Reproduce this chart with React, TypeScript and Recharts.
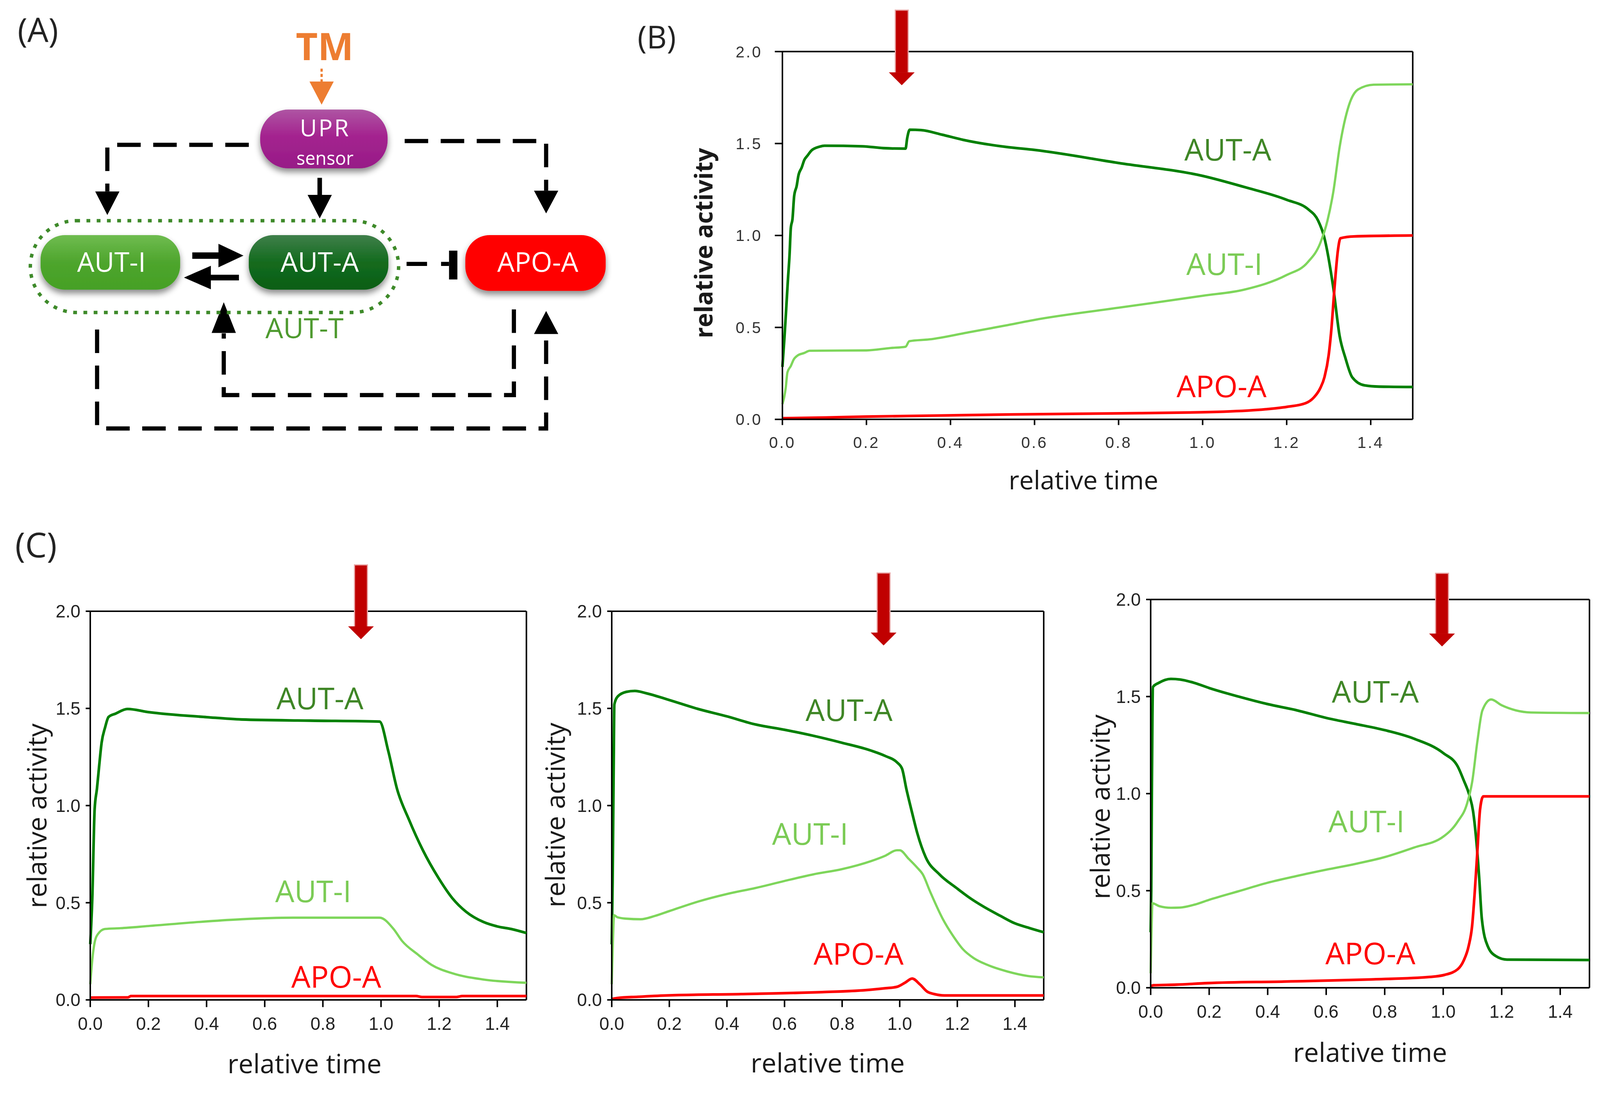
import React from 'react';
import { LineChart, Line, XAxis, YAxis, ReferenceLine, ReferenceDot } from 'recharts';

type Pt = [number, number];

// ---- panel B: [relative time, relative activity]
const B_AUT_A: Pt[] = [
  [0, 0.285], [0.005, 0.45], [0.009, 0.6], [0.013, 0.755], [0.017, 0.895], [0.02, 1.04], [0.024, 1.09],
  [0.028, 1.215], [0.034, 1.27], [0.038, 1.325], [0.046, 1.37], [0.052, 1.41], [0.06, 1.435], [0.069, 1.462],
  [0.089, 1.483], [0.1, 1.488], [0.19, 1.485], [0.24, 1.475], [0.293, 1.472], [0.297, 1.53], [0.303, 1.575],
  [0.33, 1.573], [0.38, 1.548], [0.43, 1.52], [0.53, 1.482], [0.6, 1.465], [0.8, 1.394], [1.0, 1.324],
  [1.1, 1.263], [1.2, 1.194], [1.252, 1.141], [1.275, 1.08], [1.289, 0.994], [1.311, 0.715], [1.326, 0.454],
  [1.34, 0.332], [1.356, 0.229], [1.385, 0.185], [1.42, 0.178], [1.5, 0.176],
];
const B_AUT_I: Pt[] = [
  [0, 0.083], [0.004, 0.118], [0.008, 0.173], [0.012, 0.256], [0.02, 0.29], [0.027, 0.326], [0.036, 0.347],
  [0.052, 0.361], [0.065, 0.373], [0.2, 0.375], [0.257, 0.388], [0.293, 0.395], [0.302, 0.425], [0.35, 0.435],
  [0.44, 0.472], [0.53, 0.51], [0.6, 0.541], [0.8, 0.607], [1.0, 0.672], [1.1, 0.706], [1.2, 0.785],
  [1.25, 0.854], [1.28, 0.959], [1.297, 1.08], [1.311, 1.237], [1.326, 1.48], [1.348, 1.707], [1.37, 1.794],
  [1.407, 1.82], [1.5, 1.822],
];
const B_APO_A: Pt[] = [
  [0, 0.006], [0.1, 0.01], [0.2, 0.015], [0.35, 0.02], [0.55, 0.027], [0.85, 0.034], [1.05, 0.042],
  [1.15, 0.055], [1.2, 0.068], [1.245, 0.088], [1.265, 0.12], [1.28, 0.17], [1.29, 0.23], [1.3, 0.35],
  [1.306, 0.48], [1.314, 0.72], [1.322, 0.92], [1.328, 0.985], [1.36, 0.995], [1.5, 1.0],
];

// ---- panel C, left
const C1_AUT_A: Pt[] = [
  [0, 0.287], [0.007, 0.524], [0.015, 0.98], [0.023, 1.087], [0.031, 1.21], [0.039, 1.323], [0.051, 1.402],
  [0.063, 1.456], [0.087, 1.473], [0.128, 1.497], [0.2, 1.481], [0.401, 1.455], [0.52, 1.443], [0.757, 1.437],
  [0.995, 1.432], [1.025, 1.28], [1.055, 1.086], [1.096, 0.928], [1.144, 0.77], [1.197, 0.629], [1.245, 0.524],
  [1.293, 0.453], [1.352, 0.401], [1.4, 0.378], [1.447, 0.365], [1.5, 0.344],
];
const C1_AUT_I: Pt[] = [
  [0, 0.081], [0.007, 0.207], [0.015, 0.295], [0.027, 0.34], [0.051, 0.365], [0.104, 0.369], [0.2, 0.38],
  [0.401, 0.404], [0.52, 0.415], [0.697, 0.423], [0.995, 0.423], [1.043, 0.365], [1.072, 0.304], [1.126, 0.234],
  [1.173, 0.181], [1.245, 0.137], [1.352, 0.105], [1.5, 0.088],
];
const C1_APO_A: Pt[] = [
  [0, 0.012], [0.13, 0.013], [0.14, 0.02], [1.12, 0.02], [1.14, 0.015], [1.26, 0.015], [1.28, 0.02], [1.5, 0.02],
];

// ---- panel C, middle
const C2_AUT_A: Pt[] = [
  [0, 0.286], [0.003, 0.6], [0.005, 0.92], [0.007, 1.25], [0.009, 1.52], [0.02, 1.56], [0.05, 1.585],
  [0.08, 1.59], [0.12, 1.578], [0.2, 1.543], [0.3, 1.497], [0.4, 1.459], [0.5, 1.417], [0.6, 1.39],
  [0.7, 1.359], [0.8, 1.323], [0.9, 1.283], [0.95, 1.255], [0.99, 1.223], [1.008, 1.19], [1.023, 1.086],
  [1.043, 0.963], [1.061, 0.858], [1.09, 0.735], [1.138, 0.646], [1.197, 0.576], [1.244, 0.524],
  [1.291, 0.48], [1.35, 0.432], [1.398, 0.395], [1.45, 0.37], [1.5, 0.348],
];
const C2_AUT_I: Pt[] = [
  [0, 0.081], [0.004, 0.3], [0.008, 0.436], [0.02, 0.425], [0.05, 0.418], [0.1, 0.415], [0.15, 0.432],
  [0.2, 0.457], [0.3, 0.506], [0.4, 0.545], [0.5, 0.576], [0.6, 0.612], [0.7, 0.646], [0.8, 0.673],
  [0.9, 0.714], [0.95, 0.742], [0.99, 0.77], [1.0, 0.77], [1.031, 0.726], [1.061, 0.68], [1.08, 0.646],
  [1.105, 0.559], [1.149, 0.418], [1.185, 0.33], [1.22, 0.26], [1.256, 0.216], [1.303, 0.181],
  [1.374, 0.146], [1.445, 0.123], [1.5, 0.116],
];
const C2_APO_A: Pt[] = [
  [0, 0.005], [0.02, 0.01], [0.09, 0.016], [0.19, 0.023], [0.45, 0.03], [0.73, 0.04], [0.88, 0.05],
  [0.95, 0.06], [0.99, 0.067], [1.02, 0.09], [1.043, 0.11], [1.07, 0.08], [1.096, 0.042], [1.12, 0.03],
  [1.155, 0.023], [1.5, 0.023],
];

// ---- panel C, right
const C3_AUT_A: Pt[] = [
  [0, 0.286], [0.002, 0.5], [0.004, 1.0], [0.006, 1.4], [0.008, 1.55], [0.027, 1.57], [0.069, 1.591],
  [0.1, 1.588], [0.15, 1.57], [0.2, 1.544], [0.3, 1.5], [0.4, 1.461], [0.5, 1.429], [0.6, 1.39],
  [0.7, 1.359], [0.8, 1.327], [0.9, 1.283], [1.0, 1.209], [1.05, 1.139], [1.07, 1.069], [1.09, 0.989],
  [1.102, 0.91], [1.113, 0.761], [1.123, 0.567], [1.132, 0.356], [1.152, 0.215], [1.18, 0.163],
  [1.218, 0.145], [1.5, 0.143],
];
const C3_AUT_I: Pt[] = [
  [0, 0.075], [0.003, 0.3], [0.006, 0.435], [0.03, 0.42], [0.069, 0.412], [0.1, 0.413], [0.15, 0.428],
  [0.2, 0.453], [0.3, 0.497], [0.4, 0.541], [0.5, 0.576], [0.6, 0.608], [0.7, 0.638], [0.8, 0.673],
  [0.9, 0.722], [1.0, 0.778], [1.05, 0.857], [1.081, 0.946], [1.099, 1.06], [1.117, 1.271], [1.134, 1.429],
  [1.164, 1.485], [1.2, 1.455], [1.248, 1.429], [1.3, 1.418], [1.5, 1.415],
];
const C3_APO_A: Pt[] = [
  [0, 0.008], [0.01, 0.013], [0.087, 0.016], [0.195, 0.024], [0.456, 0.032], [0.73, 0.042], [0.956, 0.056],
  [1.004, 0.066], [1.05, 0.096], [1.07, 0.14], [1.087, 0.215], [1.099, 0.321], [1.108, 0.497], [1.117, 0.708],
  [1.126, 0.919], [1.137, 0.986], [1.5, 0.986],
];

const X_TICKS = [0, 0.2, 0.4, 0.6, 0.8, 1.0, 1.2, 1.4];
const Y_TICKS = [0, 0.5, 1.0, 1.5, 2.0];
const SERIES_NAMES = ['AUT-A', 'AUT-I', 'APO-A'];

// where the curve names sit, [t, activity]
const B_NAMES: Pt[] = [[1.06, 1.472], [1.052, 0.85], [1.045, 0.184]];
const C1_NAMES: Pt[] = [[0.79, 1.556], [0.767, 0.563], [0.846, 0.124]];
const C2_NAMES: Pt[] = [[0.824, 1.495], [0.689, 0.858], [0.857, 0.241]];
const C3_NAMES: Pt[] = [[0.768, 1.53], [0.738, 0.862], [0.751, 0.181]];

// treatment arrows: [t, activity at tip]
const B_ARROW: Pt = [0.284, 1.817];
const C1_ARROW: Pt = [0.931, 1.856];
const C2_ARROW: Pt = [0.944, 1.824];
const C3_ARROW: Pt = [0.996, 1.758];

const LINE_COLORS = ['#008000', '#7ED65B', '#FF0000'];
const NAME_COLORS = ['#3F8626', '#7BCB55', '#FF0000'];

// the photographed viewport comes out ~3% smaller than the page size asked for
const FIT = 0.9709;

const toRows = (pts: Pt[]) => pts.map(([t, v]) => ({ t, v }));
const fmt = (v: number) => v.toFixed(1);

const DropArrow = ({ cx, cy, length }: { cx: number; cy: number; length: number }) => (
  <g>
    <rect x={cx - 17} y={cy - length} width={34} height={length - 32} fill="#C00000" stroke="#E9A3A3" strokeWidth={3} />
    <polygon points={`${cx - 34},${cy - 34} ${cx + 34},${cy - 34} ${cx},${cy}`} fill="#C00000" />
  </g>
);

interface PanelProps {
  left: number;
  top: number;
  width: number;
  height: number;
  marginTop: number;
  marginRight: number;
  yWidth: number;
  xHeight: number;
  series: Pt[][];
  names: Pt[];
  arrow: Pt;
  arrowLen: number;
  tickFont: any;
  yTick: [number, number];
  xTick: [number, number];
  yTitle: { dx: number; dy: number; size: number; weight: number };
  xTitle: { offset: number; dx: number; size: number };
}

const Panel: React.FC<PanelProps> = (p) => (
  <div style={{ position: 'absolute', left: p.left, top: p.top }}>
    <LineChart
      width={p.width}
      height={p.height}
      margin={{ top: p.marginTop, right: p.marginRight, left: 0, bottom: 0 }}
    >
      <XAxis
        type="number"
        dataKey="t"
        domain={[0, 1.5]}
        ticks={X_TICKS}
        interval={0}
        tickFormatter={fmt}
        height={p.xHeight}
        axisLine={{ stroke: '#000', strokeWidth: 4 }}
        tickLine={{ stroke: '#000', strokeWidth: 4 }}
        tickSize={p.xTick[0]}
        tickMargin={p.xTick[1]}
        tick={p.tickFont}
        label={{
          value: 'relative time',
          position: 'insideBottom',
          offset: p.xTitle.offset,
          dx: p.xTitle.dx,
          fill: '#1a1a1a',
          fontSize: p.xTitle.size,
          fontFamily: 'Open Sans',
        }}
      />
      <YAxis
        type="number"
        domain={[0, 2]}
        ticks={Y_TICKS}
        interval={0}
        tickFormatter={fmt}
        width={p.yWidth}
        axisLine={{ stroke: '#000', strokeWidth: 4 }}
        tickLine={{ stroke: '#000', strokeWidth: 4 }}
        tickSize={p.yTick[0]}
        tickMargin={p.yTick[1]}
        tick={p.tickFont}
        label={{
          value: 'relative activity',
          position: 'center',
          angle: -90,
          dx: p.yTitle.dx,
          dy: p.yTitle.dy,
          fill: '#1a1a1a',
          fontSize: p.yTitle.size,
          fontWeight: p.yTitle.weight,
          fontFamily: 'Open Sans',
        }}
      />
      <ReferenceLine y={2} stroke="#000" strokeWidth={4} />
      <ReferenceLine x={1.5} stroke="#000" strokeWidth={4} />
      {p.series.map((s, i) => (
        <Line
          key={SERIES_NAMES[i]}
          data={toRows(s)}
          dataKey="v"
          type="monotone"
          stroke={LINE_COLORS[i]}
          strokeWidth={i === 1 ? 6 : 7}
          dot={false}
          isAnimationActive={false}
        />
      ))}
      {p.names.map(([t, v], i) => (
        <ReferenceDot
          key={'n' + i}
          x={t}
          y={v}
          r={0}
          shape={(d: any) => (
            <text
              x={d.cx}
              y={d.cy}
              textAnchor="middle"
              dominantBaseline="central"
              fontFamily="Open Sans"
              fontSize={80}
              fill={NAME_COLORS[i]}
            >
              {SERIES_NAMES[i]}
            </text>
          )}
        />
      ))}
      <ReferenceDot
        x={p.arrow[0]}
        y={p.arrow[1]}
        r={0}
        shape={(d: any) => <DropArrow cx={d.cx} cy={d.cy} length={p.arrowLen} />}
      />
    </LineChart>
  </div>
);

const dash = { stroke: '#000', strokeWidth: 11, strokeDasharray: '62 33', fill: 'none' } as const;

const Diagram = () => (
  <svg width={1665} height={1180} style={{ position: 'absolute', left: 0, top: 0 }}>
    <defs>
      <linearGradient id="gUpr" x1="0" y1="0" x2="0" y2="1">
        <stop offset="0" stopColor="#AE55A3" />
        <stop offset="0.45" stopColor="#A4238F" />
        <stop offset="1" stopColor="#971C87" />
      </linearGradient>
      <linearGradient id="gAutI" x1="0" y1="0" x2="0" y2="1">
        <stop offset="0" stopColor="#6FBC50" />
        <stop offset="0.5" stopColor="#4EA52D" />
        <stop offset="1" stopColor="#45A025" />
      </linearGradient>
      <linearGradient id="gAutA" x1="0" y1="0" x2="0" y2="1">
        <stop offset="0" stopColor="#3F7F4A" />
        <stop offset="0.5" stopColor="#136B1E" />
        <stop offset="1" stopColor="#0D5E16" />
      </linearGradient>
      <filter id="shadow" x="-20%" y="-30%" width="140%" height="170%">
        <feDropShadow dx="0" dy="10" stdDeviation="8" floodColor="#000" floodOpacity="0.45" />
      </filter>
    </defs>

    <text x={100} y={111} textAnchor="middle" fontFamily="Open Sans" fontSize={88} fill="#222">(A)</text>

    {/* TM input */}
    <text x={856} y={159} textAnchor="middle" fontFamily="Open Sans" fontWeight={700} fontSize={100} fill="#ED7D31">TM</text>
    <line x1={848} y1={181} x2={848} y2={216} stroke="#ED7D31" strokeWidth={6} strokeDasharray="8 6" />
    <polygon points="816,215 880,215 848,276" fill="#ED7D31" />

    {/* dashed links */}
    <path d="M656 382 H283 V505" {...dash} />
    <polygon points="251,505 315,505 283,567" fill="#000" />
    <path d="M1067 372 H1440 V503" {...dash} />
    <polygon points="1408,503 1472,503 1440,563" fill="#000" />
    <line x1={843} y1={469} x2={843} y2={516} stroke="#000" strokeWidth={12} />
    <polygon points="811,514 875,514 843,576" fill="#000" />
    <path d="M256 869 V1130 H1440 V882" {...dash} />
    <polygon points="1408,881 1472,881 1440,820" fill="#000" />
    <path d="M1355 816 V1042 H590 V879" {...dash} />
    <polygon points="558,878 622,878 590,797" fill="#000" />

    {/* AUT-A -| APO-A */}
    <path d="M1072 696 H1184" stroke="#000" strokeWidth={11} strokeDasharray="54 37" />
    <rect x={1184} y={661} width={22} height={76} fill="#000" />

    {/* AUT-T group */}
    <rect x={80} y={582} width={971} height={242} rx={121} fill="none" stroke="#3E8A2A" strokeWidth={9} strokeDasharray="10 17" />

    {/* nodes */}
    <g filter="url(#shadow)">
      <rect x={686} y={289} width={336} height={155} rx={74} fill="url(#gUpr)" />
      <rect x={107} y={620} width={368} height={144} rx={64} fill="url(#gAutI)" />
      <rect x={656} y={620} width={368} height={144} rx={64} fill="url(#gAutA)" />
      <rect x={1227} y={620} width={370} height={147} rx={64} fill="#FF0000" />
    </g>
    <text x={857} y={359} textAnchor="middle" fontFamily="Open Sans" fontSize={62} fill="#fff" letterSpacing={4}>UPR</text>
    <text x={857} y={435} textAnchor="middle" fontFamily="Open Sans" fontSize={48} fill="#fff">sensor</text>
    <text x={294} y={717} textAnchor="middle" fontFamily="Open Sans" fontSize={72} fill="#fff">AUT-I</text>
    <text x={843} y={717} textAnchor="middle" fontFamily="Open Sans" fontSize={72} fill="#fff">AUT-A</text>
    <text x={1418} y={717} textAnchor="middle" fontFamily="Open Sans" fontSize={72} fill="#fff">APO-A</text>

    {/* AUT-I <-> AUT-A */}
    <line x1={507} y1={674} x2={580} y2={674} stroke="#000" strokeWidth={17} />
    <polygon points="576,643 642,674 576,705" fill="#000" />
    <line x1={552} y1={732} x2={630} y2={732} stroke="#000" strokeWidth={15} />
    <polygon points="556,701 485,732 556,763" fill="#000" />

    <text x={803} y={892} textAnchor="middle" fontFamily="Open Sans" fontSize={74} fill="#4E9A2F">AUT-T</text>
  </svg>
);

const B_TICK = { fontSize: 42, fill: '#333', fontFamily: 'Liberation Sans', letterSpacing: 4 };
const C_TICK = { fontSize: 47, fill: '#222', fontFamily: 'Liberation Sans' };

export default function App() {
  return (
    <div
      style={{
        position: 'absolute',
        left: 0,
        top: 0,
        width: Math.floor(4212 * FIT),
        height: Math.floor(2855 * FIT),
        overflow: 'hidden',
        background: '#fff',
      }}
    >
      <div style={{ position: 'relative', width: 4212, height: 2855, transform: `scale(${FIT})`, transformOrigin: '0 0' }}>
        <Diagram />
        <div style={{ position: 'absolute', left: 1681, top: 55, fontFamily: 'Open Sans', fontSize: 82, color: '#222', lineHeight: 1 }}>(B)</div>
        <div style={{ position: 'absolute', left: 40, top: 1390, fontFamily: 'Open Sans', fontSize: 90, color: '#222', lineHeight: 1 }}>(C)</div>

        <Panel
          left={1663} top={0} width={2107} height={1336} marginTop={136} marginRight={45} yWidth={400} xHeight={230}
          series={[B_AUT_A, B_AUT_I, B_APO_A]} names={B_NAMES} arrow={B_ARROW} arrowLen={198}
          tickFont={B_TICK} yTick={[20, 33]} xTick={[15, 31]}
          yTitle={{ dx: -7, dy: 20, size: 64, weight: 700 }} xTitle={{ offset: 45, dx: -37, size: 68 }}
        />
        <Panel
          left={0} top={1472} width={1428} height={1380} marginTop={140} marginRight={40} yWidth={238} xHeight={215}
          series={[C1_AUT_A, C1_AUT_I, C1_APO_A]} names={C1_NAMES} arrow={C1_ARROW} arrowLen={196}
          tickFont={C_TICK} yTick={[12, 14]} xTick={[19, 27]}
          yTitle={{ dx: -21, dy: 27, size: 70, weight: 400 }} xTitle={{ offset: 22, dx: -10, size: 70 }}
        />
        <Panel
          left={1363} top={1472} width={1429} height={1380} marginTop={140} marginRight={40} yWidth={250} xHeight={215}
          series={[C2_AUT_A, C2_AUT_I, C2_APO_A]} names={C2_NAMES} arrow={C2_ARROW} arrowLen={191}
          tickFont={C_TICK} yTick={[12, 14]} xTick={[19, 27]}
          yTitle={{ dx: -23, dy: 25, size: 70, weight: 400 }} xTitle={{ offset: 24, dx: 0, size: 70 }}
        />
        <Panel
          left={2784} top={1441} width={1427} height={1404} marginTop={140} marginRight={20} yWidth={250} xHeight={240}
          series={[C3_AUT_A, C3_AUT_I, C3_APO_A]} names={C3_NAMES} arrow={C3_ARROW} arrowLen={193}
          tickFont={C_TICK} yTick={[12, 14]} xTick={[19, 27]}
          yTitle={{ dx: -8, dy: 35, size: 70, weight: 400 }} xTitle={{ offset: 44, dx: 0, size: 70 }}
        />
      </div>
    </div>
  );
}
